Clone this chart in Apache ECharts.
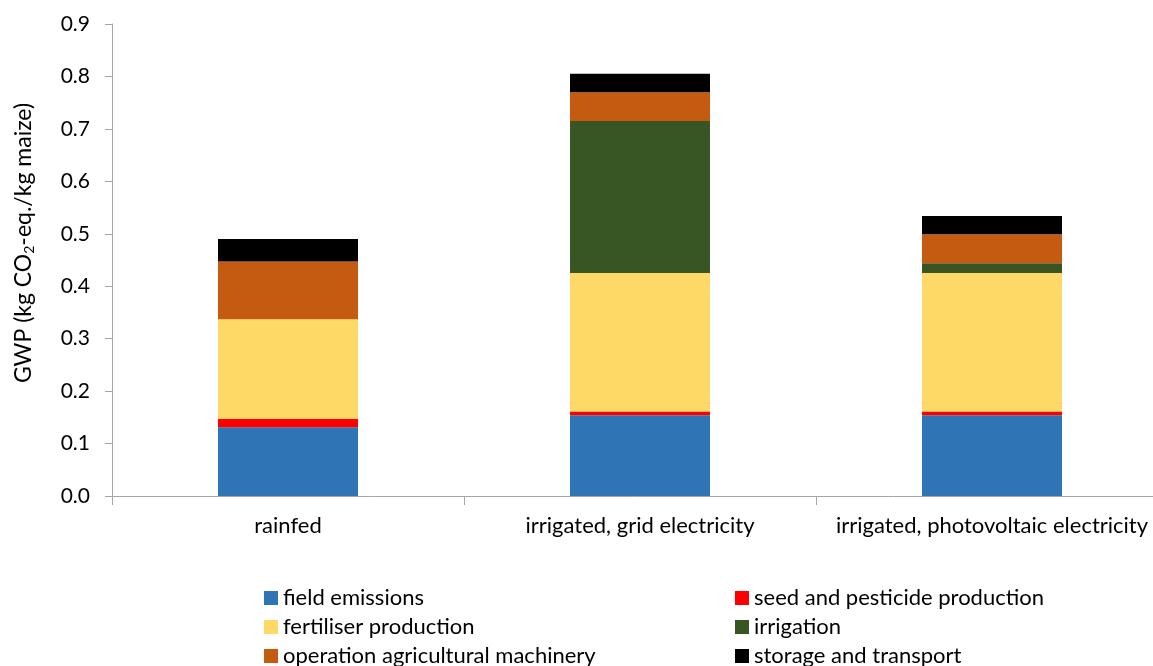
<!DOCTYPE html>
<html><head><meta charset="utf-8">
<script src="https://cdn.jsdelivr.net/npm/echarts@6/dist/echarts.min.js"></script>
<style>html,body{margin:0;padding:0;background:#fff}#c{width:1153px;height:666px}</style>
</head><body><div id="c"></div>
<script>
var categories = ['rainfed', 'irrigated, grid electricity', 'irrigated, photovoltaic electricity'];
var fieldEmissions = [0.131, 0.154, 0.154];
var seedPesticide = [0.016, 0.007, 0.007];
var fertiliser = [0.190, 0.264, 0.264];
var irrigation = [0.000, 0.290, 0.019];
var machinery = [0.110, 0.055, 0.055];
var storage = [0.043, 0.035, 0.035];
var seriesNames = ['field emissions', 'seed and pesticide production', 'fertiliser production',
  'irrigation', 'operation agricultural machinery', 'storage and transport'];
var seriesColors = ['#2E75B6', '#FF0000', '#FFD966', '#375623', '#C55A11', '#000000'];

var FONT = 'Lato';
var chart = echarts.init(document.getElementById('c'));
var allData = [fieldEmissions, seedPesticide, fertiliser, irrigation, machinery, storage];
var series = seriesNames.map(function (n, i) {
  return {name: n, type: 'bar', stack: 'a', data: allData[i], barWidth: 140,
    itemStyle: {color: seriesColors[i]}, emphasis: {disabled: true}};
});
// legend placement: left column / right column, three rows
var legendPos = [[264, 0], [735, 0], [264, 1], [735, 1], [264, 2], [735, 2]];
var legends = seriesNames.map(function (n, i) {
  return {left: legendPos[i][0], top: 587 + legendPos[i][1] * 29, itemWidth: 14, itemHeight: 14,
    icon: 'rect', padding: 0, textStyle: {fontSize: 22, color: '#000', fontFamily: FONT},
    data: [n], selectedMode: false};
});
chart.setOption({
  animation: false,
  textStyle: {fontFamily: FONT},
  grid: {left: 112, width: 1056, top: 24, bottom: 170, outerBoundsMode: 'none', containLabel: false},
  legend: legends,
  xAxis: {
    type: 'category', data: categories,
    axisLine: {lineStyle: {color: '#a6a6a6', width: 1}},
    axisTick: {show: true, length: 9, lineStyle: {color: '#a6a6a6'}},
    axisLabel: {fontSize: 22, color: '#000', margin: 19, fontFamily: FONT, interval: 0}
  },
  yAxis: {
    type: 'value', min: 0, max: 0.9, interval: 0.1,
    name: 'GWP (kg CO{sub|2}-eq./kg maize)', nameLocation: 'middle', nameGap: 76,
    nameTextStyle: {fontSize: 23, color: '#000', fontFamily: FONT, padding: [0, 0, 0, 34],
      rich: {sub: {fontSize: 14, fontFamily: FONT, color: '#000', padding: [10, 0, 0, 0]}}},
    axisLine: {show: true, lineStyle: {color: '#a6a6a6'}},
    axisTick: {show: true, length: 7, lineStyle: {color: '#a6a6a6'}},
    splitLine: {show: false},
    axisLabel: {fontSize: 21, color: '#000', margin: 22, fontFamily: FONT,
      formatter: function (v) { return v.toFixed(1); }}
  },
  series: series
});
</script></body></html>
